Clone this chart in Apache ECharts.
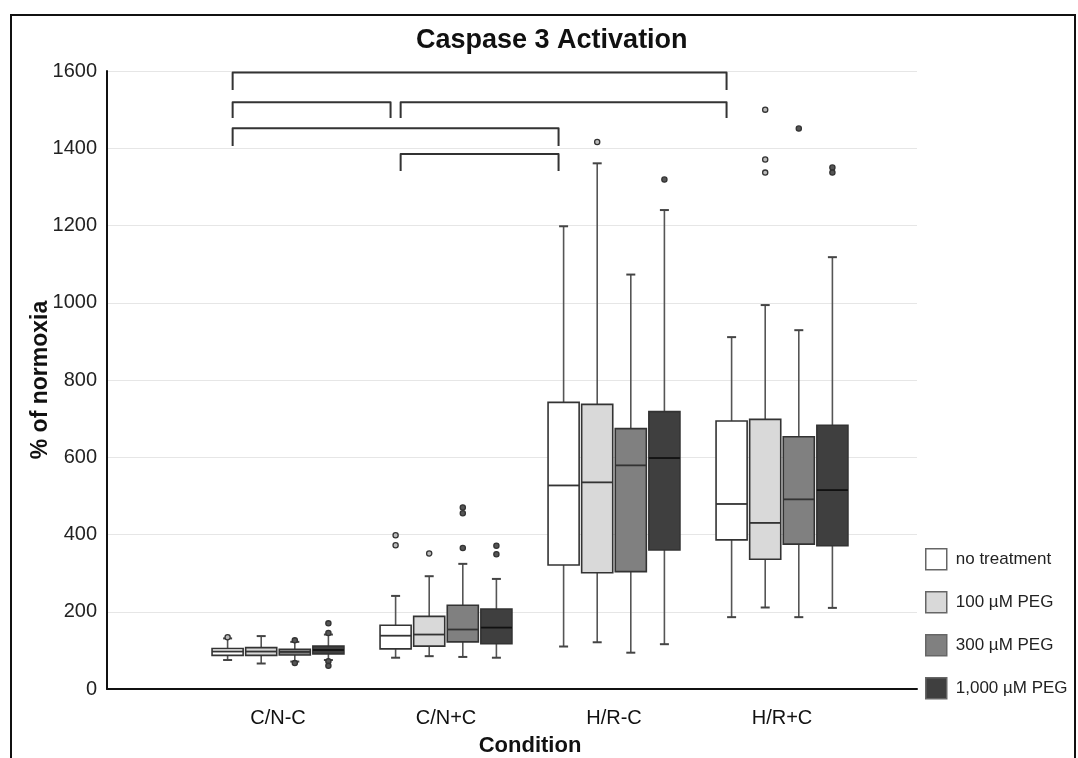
<!DOCTYPE html>
<html lang="en">
<head>
    <meta charset="UTF-8">
    <title>Caspase 3 Activation</title>
    <script type="text/javascript" src="https://cdn.jsdelivr.net/npm/echarts@6/dist/echarts.min.js"></script>
    <style>
        html, body { margin: 0; padding: 0; background: #fff; }
        #chart1 { width: 1078px; height: 758px; }
    </style>
</head>
<body>
<div id="chart1"></div>
<script type="text/javascript">
    // categories / groups
    var categories = ['C/N-C', 'C/N+C', 'H/R-C', 'H/R+C'];
    var treatments = ['no treatment', '100 µM PEG', '300 µM PEG', '1,000 µM PEG'];

    // [min, Q1, median, Q3, max] per category
    var noTreatment = [[75, 87, 97, 105, 131], [81, 104, 138, 165, 241], [110, 321, 527, 742, 1198], [186, 386, 479, 694, 911]];
    var peg100 = [[66, 87, 97, 107, 137], [85, 111, 141, 188, 292], [121, 301, 535, 737, 1361], [211, 336, 430, 698, 994]];
    var peg300 = [[71, 88, 96, 103, 122], [83, 122, 154, 217, 324], [94, 304, 579, 674, 1073], [186, 375, 491, 653, 929]];
    var peg1000 = [[75, 91, 101, 111, 141], [81, 117, 159, 207, 285], [116, 360, 598, 718, 1240], [210, 371, 515, 683, 1118]];

    // outliers: [category index, value]
    var outNoTreatment = [[0, 134], [1, 398], [1, 372]];
    var out100 = [[1, 351], [2, 1416], [3, 1500], [3, 1371], [3, 1337]];
    var out300 = [[0, 126], [0, 67], [1, 365], [1, 455], [1, 470], [3, 1451]];
    var out1000 = [[0, 170], [0, 145], [0, 72], [0, 60], [1, 371], [1, 349], [2, 1319], [3, 1350], [3, 1337]];

    // significance brackets: [from category, to category, top value, leg end value]
    var brackets = [[0, 3, 1596, 1551], [0, 1, 1519, 1478], [1, 3, 1519, 1478], [0, 2, 1452, 1406], [1, 2, 1385, 1341]];

    var yTicks = [0, 200, 400, 600, 800, 1000, 1200, 1400, 1600];

    var boxData = [noTreatment, peg100, peg300, peg1000];
    var outData = [outNoTreatment, out100, out300, out1000];
    var fills = ['#ffffff', '#d9d9d9', '#808080', '#3f3f3f'];
    var OFFSETS = [-0.3, -0.1, 0.1, 0.3];   // share of band width
    var BOX_W = 0.185;
    var CAP_W = 9;
    var FONT = '"Liberation Sans", Arial, Helvetica, sans-serif';

    function makeBoxRender(k) {
        return function (params, api) {
            var cat = api.value(0);
            var band = api.size([1, 0])[0];
            var cx = api.coord([cat, 0])[0] + OFFSETS[k] * band;
            var half = BOX_W * band / 2;
            var y = [1, 2, 3, 4, 5].map(function (d) {
                return api.coord([cat, api.value(d)])[1];
            });
            var wStyle = {stroke: '#555', lineWidth: 1.6};
            return {
                type: 'group',
                children: [
                    {type: 'line', shape: {x1: cx, y1: y[0], x2: cx, y2: y[1]}, style: wStyle},
                    {type: 'line', shape: {x1: cx, y1: y[3], x2: cx, y2: y[4]}, style: wStyle},
                    {type: 'line', shape: {x1: cx - CAP_W / 2, y1: y[0], x2: cx + CAP_W / 2, y2: y[0]}, style: {stroke: '#444', lineWidth: 2}},
                    {type: 'line', shape: {x1: cx - CAP_W / 2, y1: y[4], x2: cx + CAP_W / 2, y2: y[4]}, style: {stroke: '#444', lineWidth: 2}},
                    {
                        type: 'rect',
                        shape: {x: cx - half, y: y[3], width: half * 2, height: y[1] - y[3]},
                        style: {fill: fills[k], stroke: '#333', lineWidth: 1.6}
                    },
                    {type: 'line', shape: {x1: cx - half, y1: y[2], x2: cx + half, y2: y[2]}, style: {stroke: k === 3 ? '#111' : '#333', lineWidth: 1.8}}
                ]
            };
        };
    }

    function makeOutRender(k) {
        return function (params, api) {
            var cat = api.value(0);
            var band = api.size([1, 0])[0];
            var p = api.coord([cat, api.value(1)]);
            return {
                type: 'circle',
                shape: {cx: p[0] + OFFSETS[k] * band, cy: p[1], r: 2.6},
                style: {fill: k < 2 ? '#bbb' : '#555', stroke: '#333', lineWidth: 1.3}
            };
        };
    }

    function renderBracket(params, api) {
        var band = api.size([1, 0])[0];
        var inset = 0.03 * band;
        var x1 = api.coord([api.value(0), 0])[0] + OFFSETS[0] * band + inset;
        var x2 = api.coord([api.value(1), 0])[0] + OFFSETS[0] * band - inset;
        var yTop = api.coord([0, api.value(2)])[1];
        var yLeg = api.coord([0, api.value(3)])[1];
        return {
            type: 'polyline',
            shape: {points: [[x1, yLeg], [x1, yTop], [x2, yTop], [x2, yLeg]]},
            style: {stroke: '#333', lineWidth: 2, fill: null, lineJoin: 'round'}
        };
    }

    var series = [];
    for (var k = 0; k < 4; k++) {
        series.push({
            name: treatments[k],
            type: 'custom',
            xAxisIndex: 1,
            yAxisIndex: 1,
            renderItem: makeBoxRender(k),
            itemStyle: {color: fills[k], borderColor: '#555', borderWidth: 1.5},
            encode: {x: 0, y: [1, 2, 3, 4, 5]},
            data: boxData[k].map(function (d, i) { return [i].concat(d); }),
            z: 3
        });
    }
    for (var k2 = 0; k2 < 4; k2++) {
        series.push({
            name: treatments[k2],
            type: 'custom',
            xAxisIndex: 1,
            yAxisIndex: 1,
            renderItem: makeOutRender(k2),
            encode: {x: 0, y: 1},
            data: outData[k2],
            z: 4
        });
    }
    series.push({
        name: 'brackets',
        type: 'custom',
        xAxisIndex: 1,
        yAxisIndex: 1,
        renderItem: renderBracket,
        encode: {x: [0, 1], y: [2, 3]},
        data: brackets,
        z: 4
    });

    var myChart = echarts.init(document.getElementById('chart1'));
    var option = {
        backgroundColor: '#fff',
        animation: false,
        textStyle: {fontFamily: FONT},
        title: {
            text: 'Caspase 3 Activation',
            left: 411,
            top: 22,
            textStyle: {fontSize: 27, fontWeight: 'bold', color: '#111', fontFamily: FONT}
        },
        legend: {
            orient: 'vertical',
            left: 920,
            top: 543,
            itemWidth: 21,
            itemHeight: 21,
            itemGap: 20.5,
            icon: 'rect',
            textStyle: {fontSize: 17, color: '#222', fontFamily: FONT, padding: [0, 0, 0, 4]},
            data: treatments.map(function (t, i) {
                return {name: t, itemStyle: {color: fills[i], borderColor: '#666', borderWidth: 1.5}};
            })
        },
        grid: [
            {left: 107, right: 161, top: 71, bottom: 69, outerBoundsMode: 'none'},
            {left: 194, width: 672, top: 71, bottom: 69, outerBoundsMode: 'none'}
        ],
        xAxis: [
            {
                type: 'value', gridIndex: 0, min: 0, max: 1,
                axisLine: {show: true, lineStyle: {color: '#111', width: 2}},
                axisTick: {show: false}, axisLabel: {show: false}, splitLine: {show: false}
            },
            {
                type: 'category', gridIndex: 1, data: categories,
                axisLine: {show: false}, axisTick: {show: false},
                axisLabel: {fontSize: 20, color: '#111', margin: 19, fontFamily: FONT},
                name: 'Condition', nameLocation: 'middle', nameGap: 46,
                nameTextStyle: {fontSize: 22, fontWeight: 'bold', color: '#111', fontFamily: FONT}
            }
        ],
        yAxis: [
            {
                type: 'value', gridIndex: 0, min: yTicks[0], max: yTicks[yTicks.length - 1], interval: 200,
                axisLine: {show: true, lineStyle: {color: '#111', width: 2}},
                axisTick: {show: false},
                axisLabel: {
                    fontSize: 20, color: '#222', margin: 10, fontFamily: FONT,
                    formatter: function (v) { return String(v); }
                },
                splitLine: {lineStyle: {color: '#e6e6e6', width: 1}},
                name: '% of normoxia', nameLocation: 'middle', nameGap: 55, nameMoveOverlap: false,
                nameTextStyle: {fontSize: 23, fontWeight: 'bold', color: '#111', fontFamily: FONT}
            },
            {
                type: 'value', gridIndex: 1, min: 0, max: 1600, show: false
            }
        ],
        graphic: [{
            type: 'rect',
            shape: {x: 11, y: 15, width: 1064, height: 760},
            style: {fill: null, stroke: '#111', lineWidth: 2},
            silent: true
        }],
        series: series
    };
    myChart.setOption(option);
</script>
</body>
</html>
